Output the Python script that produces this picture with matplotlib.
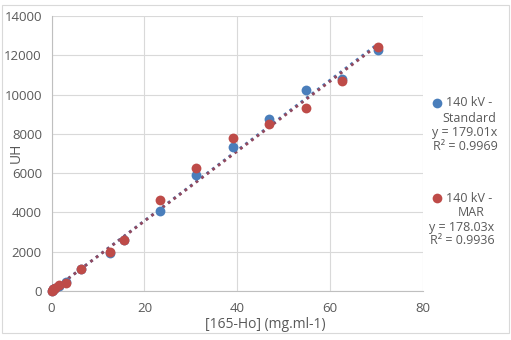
import numpy as np
import matplotlib.pyplot as plt
from matplotlib.lines import Line2D
from matplotlib.patches import Rectangle

plt.rcParams['font.family'] = ['Open Sans', 'DejaVu Sans']

# concentration of 165-Ho (mg/ml)
conc = [0, 0.2, 0.39, 0.78, 1.56, 3.13, 6.25, 12.5, 15.6, 23.4, 31.2, 39.1, 46.9, 54.7, 62.5, 70.3]
# 140 kV standard
uh_std = [0, 40, 80, 150, 270, 450, 1120, 1960, 2600, 4070, 5900, 7350, 8740, 10230, 10810, 12270]
# 140 kV MAR
uh_mar = [0, 50, 100, 170, 290, 430, 1140, 1970, 2600, 4650, 6280, 7790, 8500, 9330, 10680, 12440]

slope_std = 179.01
slope_mar = 178.03

blue = '#4a7ebb'
red = '#be4b48'
grey = '#595959'

W, H = 511, 340
def fx(px):
    return px / W
def fy(py):
    return 1 - py / H

fig = plt.figure(figsize=(5.11, 3.4), dpi=100)
ax = fig.add_axes([0.101, 0.144, 0.727, 0.809])

xfit = np.array([0, 70.3])
ax.plot(xfit, slope_std * xfit, color=blue, ls=(0, (1, 1.5)), lw=2, zorder=2)
ax.plot(xfit, slope_mar * xfit, color='#93495e', ls=(0, (1, 1.5)), lw=2, zorder=2)
ax.scatter(conc, uh_std, s=50, color=blue, zorder=3, linewidths=0, clip_on=False)
ax.scatter(conc, uh_mar, s=50, color=red, zorder=4, linewidths=0, clip_on=False)

ax.set_xlim(0, 80)
ax.set_ylim(0, 14000)
ax.set_xticks(range(0, 81, 20))
ax.set_yticks(range(0, 14001, 2000))
ax.grid(True, color='#d9d9d9', lw=0.8)
ax.set_axisbelow(True)
for s in ['top', 'right']:
    ax.spines[s].set_visible(False)
for s in ['left', 'bottom']:
    ax.spines[s].set_color('#bfbfbf')
ax.tick_params(length=0, colors=grey, labelsize=9.5)
ax.tick_params(axis='x', pad=8)
ax.tick_params(axis='y', pad=7)
fig.text(fx(265), fy(325), '[165-Ho] (mg.ml-1)', color=grey, fontsize=10,
         ha='center', va='center')
fig.text(fx(16), fy(153), 'UH', color=grey, fontsize=10, rotation=90,
         ha='center', va='center')

# legend with trendline equations
fig.add_artist(Line2D([fx(437)], [fy(103)], marker='o', ms=7, color=blue, mec='none'))
fig.add_artist(Line2D([fx(437)], [fy(198)], marker='o', ms=7, color=red, mec='none'))
kw = dict(color=grey, fontsize=9, va='center')
fig.text(fx(446), fy(103), '140 kV -', ha='left', **kw)
fig.text(fx(496), fy(119), 'Standard', ha='right', **kw)
fig.text(fx(465), fy(133), 'y = 179.01x', ha='center', **kw)
fig.text(fx(465), fy(147), 'R² = 0.9969', ha='center', **kw)
fig.text(fx(446), fy(198), '140 kV -', ha='left', **kw)
fig.text(fx(458), fy(213), 'MAR', ha='left', **kw)
fig.text(fx(462), fy(227), 'y = 178.03x', ha='center', **kw)
fig.text(fx(462), fy(241), 'R² = 0.9936', ha='center', **kw)

fig.add_artist(Rectangle((fx(2), fy(333)), fx(507), fy(5) - fy(333),
                         fill=False, ec='#d9d9d9', lw=0.8, transform=fig.transFigure))

fig.savefig('out.png', dpi=100)
